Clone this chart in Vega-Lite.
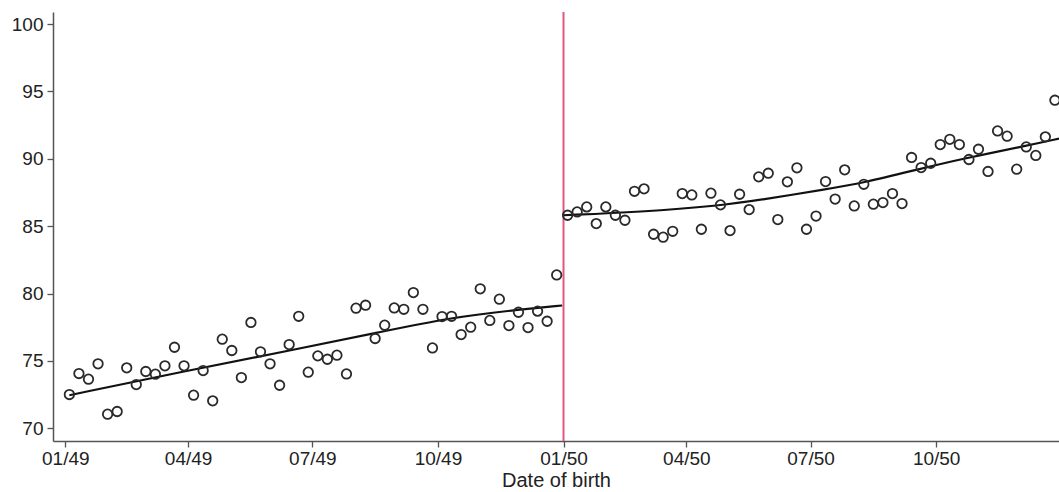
{
  "$schema": "https://vega.github.io/schema/vega-lite/v6.json",
  "width": 1006,
  "height": 429,
  "autosize": {"type": "none"},
  "padding": {"left": 53, "top": 12, "right": 0, "bottom": 51},
  "background": "white",
  "config": {
    "view": {"stroke": null},
    "axis": {
      "grid": false,
      "domainColor": "#555",
      "domainWidth": 1.5,
      "tickColor": "#555",
      "tickWidth": 1.3,
      "tickSize": 6,
      "labelFont": "Liberation Sans",
      "labelFontSize": 19,
      "labelColor": "#222",
      "labelPadding": 2,
      "titleFont": "Liberation Sans",
      "titleFontSize": 20,
      "titleFontWeight": "normal",
      "titleColor": "#222",
      "labelFlush": false,
      "labelOverlap": false
    }
  },
  "datasets": {
    "points": [
      {"date": "1949-01-04", "value": 72.50},
      {"date": "1949-01-11", "value": 74.06},
      {"date": "1949-01-18", "value": 73.64},
      {"date": "1949-01-25", "value": 74.78},
      {"date": "1949-02-01", "value": 71.04},
      {"date": "1949-02-08", "value": 71.24},
      {"date": "1949-02-15", "value": 74.48},
      {"date": "1949-02-22", "value": 73.24},
      {"date": "1949-03-01", "value": 74.21},
      {"date": "1949-03-08", "value": 74.01},
      {"date": "1949-03-15", "value": 74.63},
      {"date": "1949-03-22", "value": 76.01},
      {"date": "1949-03-29", "value": 74.63},
      {"date": "1949-04-05", "value": 72.45},
      {"date": "1949-04-12", "value": 74.28},
      {"date": "1949-04-19", "value": 72.03},
      {"date": "1949-04-26", "value": 76.61},
      {"date": "1949-05-03", "value": 75.77},
      {"date": "1949-05-10", "value": 73.76},
      {"date": "1949-05-17", "value": 77.85},
      {"date": "1949-05-24", "value": 75.67},
      {"date": "1949-05-31", "value": 74.78},
      {"date": "1949-06-07", "value": 73.19},
      {"date": "1949-06-14", "value": 76.21},
      {"date": "1949-06-21", "value": 78.31},
      {"date": "1949-06-28", "value": 74.16},
      {"date": "1949-07-05", "value": 75.37},
      {"date": "1949-07-12", "value": 75.12},
      {"date": "1949-07-19", "value": 75.42},
      {"date": "1949-07-26", "value": 74.03},
      {"date": "1949-08-02", "value": 78.91},
      {"date": "1949-08-09", "value": 79.13},
      {"date": "1949-08-16", "value": 76.66},
      {"date": "1949-08-23", "value": 77.65},
      {"date": "1949-08-30", "value": 78.93},
      {"date": "1949-09-06", "value": 78.83},
      {"date": "1949-09-13", "value": 80.07},
      {"date": "1949-09-20", "value": 78.83},
      {"date": "1949-09-27", "value": 75.96},
      {"date": "1949-10-04", "value": 78.29},
      {"date": "1949-10-11", "value": 78.31},
      {"date": "1949-10-18", "value": 76.95},
      {"date": "1949-10-25", "value": 77.50},
      {"date": "1949-11-01", "value": 80.35},
      {"date": "1949-11-08", "value": 78.00},
      {"date": "1949-11-15", "value": 79.58},
      {"date": "1949-11-22", "value": 77.62},
      {"date": "1949-11-29", "value": 78.61},
      {"date": "1949-12-06", "value": 77.47},
      {"date": "1949-12-13", "value": 78.69},
      {"date": "1949-12-20", "value": 77.94},
      {"date": "1949-12-27", "value": 81.38},
      {"date": "1950-01-04", "value": 85.81},
      {"date": "1950-01-11", "value": 86.06},
      {"date": "1950-01-18", "value": 86.43},
      {"date": "1950-01-25", "value": 85.19},
      {"date": "1950-02-01", "value": 86.43},
      {"date": "1950-02-08", "value": 85.81},
      {"date": "1950-02-15", "value": 85.44},
      {"date": "1950-02-22", "value": 87.59},
      {"date": "1950-03-01", "value": 87.77},
      {"date": "1950-03-08", "value": 84.40},
      {"date": "1950-03-15", "value": 84.18},
      {"date": "1950-03-22", "value": 84.62},
      {"date": "1950-03-29", "value": 87.42},
      {"date": "1950-04-05", "value": 87.32},
      {"date": "1950-04-12", "value": 84.77},
      {"date": "1950-04-19", "value": 87.45},
      {"date": "1950-04-26", "value": 86.58},
      {"date": "1950-05-03", "value": 84.67},
      {"date": "1950-05-10", "value": 87.37},
      {"date": "1950-05-17", "value": 86.23},
      {"date": "1950-05-24", "value": 88.66},
      {"date": "1950-05-31", "value": 88.93},
      {"date": "1950-06-07", "value": 85.49},
      {"date": "1950-06-14", "value": 88.29},
      {"date": "1950-06-21", "value": 89.33},
      {"date": "1950-06-28", "value": 84.77},
      {"date": "1950-07-05", "value": 85.75},
      {"date": "1950-07-12", "value": 88.31},
      {"date": "1950-07-19", "value": 87.01},
      {"date": "1950-07-26", "value": 89.18},
      {"date": "1950-08-02", "value": 86.50},
      {"date": "1950-08-09", "value": 88.11},
      {"date": "1950-08-16", "value": 86.63},
      {"date": "1950-08-23", "value": 86.75},
      {"date": "1950-08-30", "value": 87.42},
      {"date": "1950-09-06", "value": 86.68},
      {"date": "1950-09-13", "value": 90.10},
      {"date": "1950-09-20", "value": 89.35},
      {"date": "1950-09-27", "value": 89.67},
      {"date": "1950-10-04", "value": 91.06},
      {"date": "1950-10-11", "value": 91.45},
      {"date": "1950-10-18", "value": 91.06},
      {"date": "1950-10-25", "value": 89.95},
      {"date": "1950-11-01", "value": 90.71},
      {"date": "1950-11-08", "value": 89.06},
      {"date": "1950-11-15", "value": 92.07},
      {"date": "1950-11-22", "value": 91.68},
      {"date": "1950-11-29", "value": 89.23},
      {"date": "1950-12-06", "value": 90.88},
      {"date": "1950-12-13", "value": 90.25},
      {"date": "1950-12-20", "value": 91.63},
      {"date": "1950-12-27", "value": 94.35}
    ],
    "fits": [
      {"period": "1949", "date": "1949-01-04", "value": 72.45},
      {"period": "1949", "date": "1949-04-02", "value": 74.31},
      {"period": "1949", "date": "1949-06-22", "value": 75.92},
      {"period": "1949", "date": "1949-08-17", "value": 77.08},
      {"period": "1949", "date": "1949-10-10", "value": 78.22},
      {"period": "1949", "date": "1949-11-30", "value": 78.81},
      {"period": "1949", "date": "1949-12-31", "value": 79.11},
      {"period": "1950", "date": "1950-01-01", "value": 85.81},
      {"period": "1950", "date": "1950-02-26", "value": 86.05},
      {"period": "1950", "date": "1950-04-26", "value": 86.52},
      {"period": "1950", "date": "1950-05-25", "value": 86.95},
      {"period": "1950", "date": "1950-07-13", "value": 87.75},
      {"period": "1950", "date": "1950-08-09", "value": 88.22},
      {"period": "1950", "date": "1950-09-19", "value": 89.25},
      {"period": "1950", "date": "1950-10-19", "value": 89.98},
      {"period": "1950", "date": "1950-12-07", "value": 90.98},
      {"period": "1950", "date": "1950-12-30", "value": 91.5}
    ]
  },
  "encoding": {
    "x": {
      "field": "date",
      "type": "temporal",
      "scale": {"type": "utc", "domain": ["1948-12-23", "1950-12-30"], "nice": false},
      "axis": {
        "title": "Date of birth",
        "format": "%m/%y",
        "tickCount": {"interval": "month", "step": 3},
        "titlePadding": 2
      }
    },
    "y": {
      "field": "value",
      "type": "quantitative",
      "scale": {"domain": [69.05, 100.9], "nice": false, "zero": false},
      "axis": {"title": null, "values": [70, 75, 80, 85, 90, 95, 100], "labelPadding": 4}
    }
  },
  "layer": [
    {
      "data": {"values": [{"date": "1950-01-01"}]},
      "mark": {"type": "rule", "color": "#e0587e", "strokeWidth": 2},
      "encoding": {"y": null}
    },
    {
      "data": {"name": "fits"},
      "mark": {"type": "line", "color": "#111", "strokeWidth": 2.2, "interpolate": "basis"},
      "encoding": {"detail": {"field": "period"}}
    },
    {
      "data": {"name": "points"},
      "mark": {"type": "point", "shape": "circle", "filled": false, "stroke": "#2a2a2a", "strokeWidth": 1.8, "size": 90, "opacity": 1}
    }
  ]
}
